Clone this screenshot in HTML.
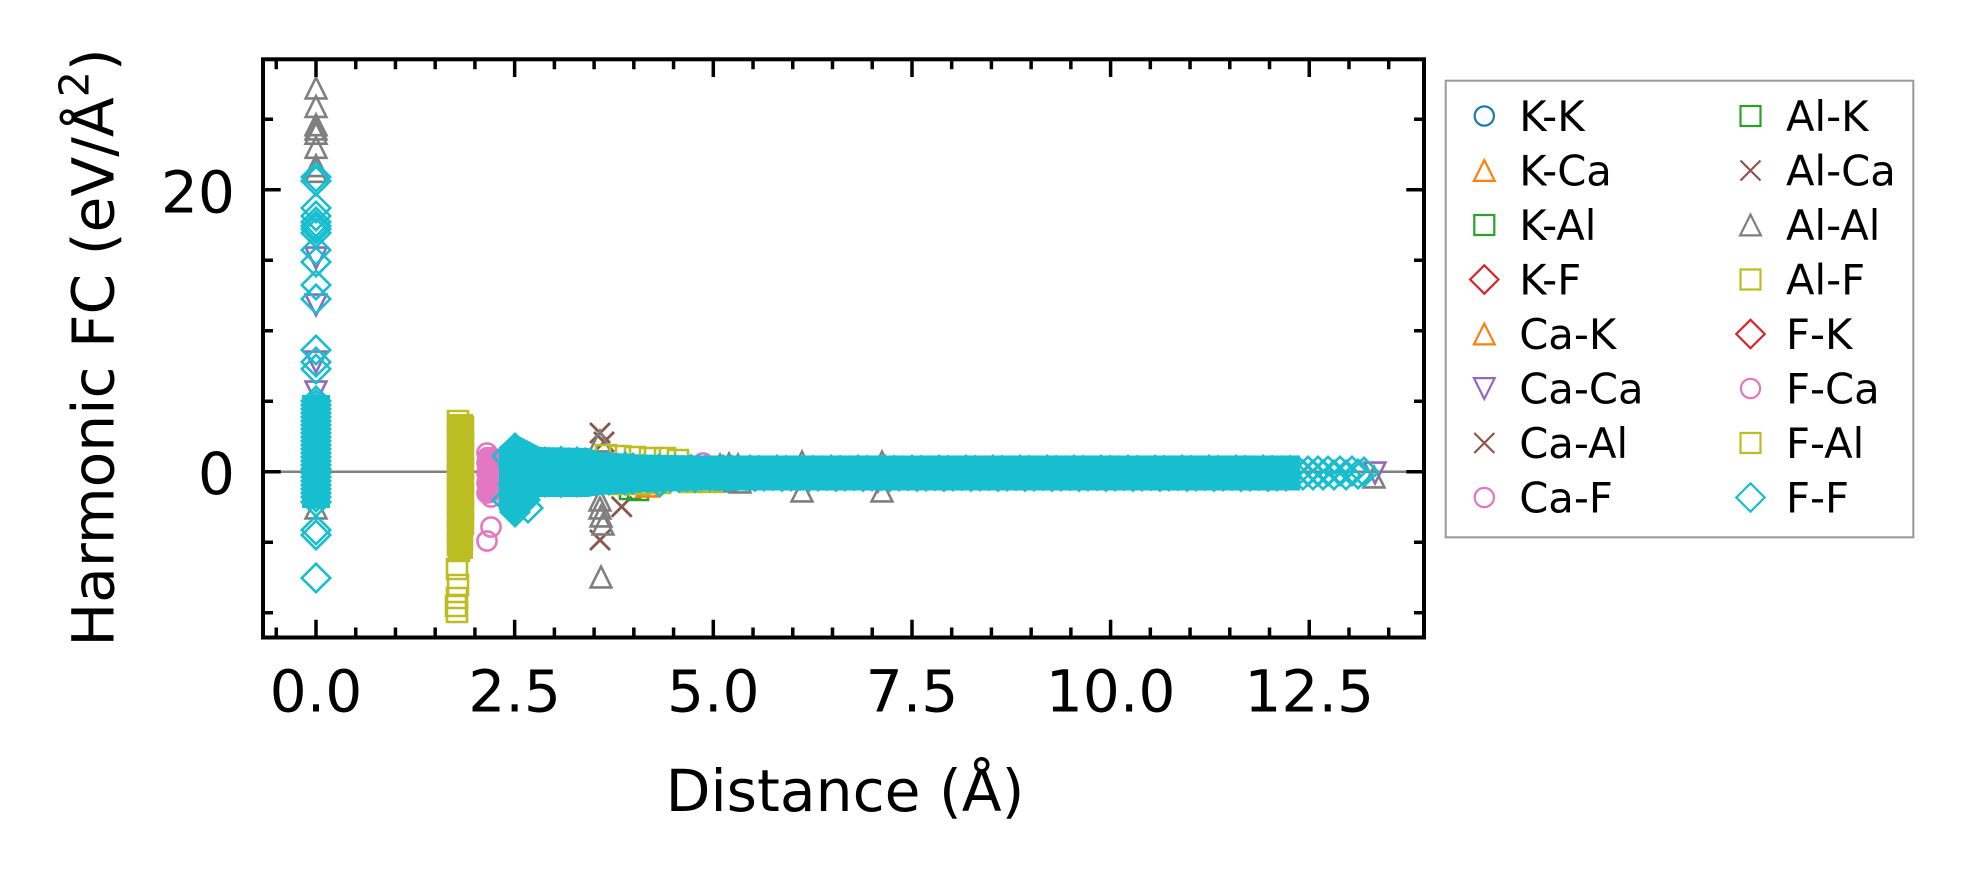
<!DOCTYPE html>
<html><head><meta charset="utf-8"><style>
html,body{margin:0;padding:0;background:#fff;}
svg{display:block;}
text{font-family:"DejaVu Sans","Liberation Sans",sans-serif;fill:#000;}
</style></head><body>
<svg width="1973" height="883" viewBox="0 0 1973 883" xmlns="http://www.w3.org/2000/svg">
<defs>
<path id="D" d="M0,-14.2L14.2,0L0,14.2L-14.2,0Z"/>
<path id="S" d="M-10,-10H10V10H-10Z"/>
<path id="T" d="M0,-10.4L10.4,10.4H-10.4Z"/>
<path id="V" d="M0,10.4L10.4,-10.4H-10.4Z"/>
<circle id="O" r="9.6"/>
<path id="X" d="M-10,-10L10,10M10,-10L-10,10"/>
</defs>
<rect width="1973" height="883" fill="#fff"/>

<!-- zero line -->
<line x1="263" y1="471.7" x2="1424" y2="471.7" stroke="#808080" stroke-width="2.5"/>

<!-- Ca-Ca purple -->
<g fill="none" stroke="#9467bd" stroke-width="2.6">
<use href="#V" x="316" y="258"/><use href="#V" x="316" y="305"/><use href="#V" x="316" y="362"/><use href="#V" x="316" y="392"/>
<use href="#V" x="1375" y="473"/><use href="#V" x="878" y="481"/>
</g>
<!-- brown x -->
<g fill="none" stroke="#8c564b" stroke-width="2.8">
<use href="#X" x="600" y="433"/><use href="#X" x="604" y="442"/><use href="#X" x="621.7" y="506.7"/><use href="#X" x="600" y="540"/>
</g>
<!-- green / orange -->
<g fill="none" stroke="#2ca02c" stroke-width="2.6">
<use href="#S" x="630" y="489"/><use href="#S" x="638" y="490"/>
</g>
<g fill="none" stroke="#ff7f0e" stroke-width="2.6">
<use href="#T" x="647" y="486"/>
</g>
<!-- Al-Al gray -->
<g fill="none" stroke="#7f7f7f" stroke-width="2.6">
<use href="#T" x="316" y="88"/><use href="#T" x="316" y="106.5"/><use href="#T" x="316" y="124.8"/><use href="#T" x="316" y="129"/><use href="#T" x="316" y="133.3"/><use href="#T" x="316" y="147.4"/><use href="#T" x="316" y="165.7"/><use href="#T" x="316" y="171.4"/><use href="#T" x="316" y="508"/>
<use href="#T" x="600" y="441"/><use href="#T" x="600" y="500"/><use href="#T" x="600" y="508"/><use href="#T" x="601" y="516"/><use href="#T" x="603" y="524"/><use href="#T" x="601" y="577"/>
<use href="#T" x="720" y="465"/><use href="#T" x="729" y="464"/><use href="#T" x="738" y="465"/><use href="#T" x="725" y="481"/><use href="#T" x="740" y="482"/>
<use href="#T" x="802" y="462"/><use href="#T" x="802" y="491"/><use href="#T" x="882" y="462"/><use href="#T" x="882" y="491"/>
<use href="#T" x="1374" y="477"/><use href="#T" x="1100" y="478"/>
</g>
<!-- Al-F olive -->
<g fill="none" stroke="#bcbd22" stroke-width="2.6">
<rect x="449" y="414" width="24" height="145" fill="#bcbd22" stroke="none"/>
<use href="#S" x="458" y="421"/><use href="#S" x="463" y="427"/><use href="#S" x="458" y="433"/><use href="#S" x="463" y="440"/><use href="#S" x="458" y="447"/><use href="#S" x="463" y="454"/><use href="#S" x="458" y="461"/><use href="#S" x="463" y="468"/><use href="#S" x="458" y="475"/><use href="#S" x="463" y="482"/><use href="#S" x="458" y="489"/><use href="#S" x="463" y="496"/><use href="#S" x="458" y="503"/><use href="#S" x="463" y="510"/><use href="#S" x="458" y="517"/><use href="#S" x="463" y="524"/><use href="#S" x="458" y="531"/><use href="#S" x="462" y="538"/><use href="#S" x="458" y="545"/><use href="#S" x="459" y="551"/>
<use href="#S" x="457" y="569"/><use href="#S" x="458" y="585"/><use href="#S" x="457" y="598"/><use href="#S" x="456" y="606"/><use href="#S" x="457" y="612"/>
<use href="#S" x="606" y="455"/><use href="#S" x="620" y="456"/><use href="#S" x="635" y="457"/><use href="#S" x="650" y="458"/><use href="#S" x="665" y="458"/><use href="#S" x="678" y="460"/>
<use href="#S" x="620" y="484"/><use href="#S" x="640" y="484"/><use href="#S" x="660" y="483"/><use href="#S" x="690" y="482"/><use href="#S" x="712" y="482"/>
</g>
<!-- pink -->
<g fill="none" stroke="#e377c2" stroke-width="2.6">
<rect x="478" y="447" width="22" height="56" rx="8" fill="#e377c2" stroke="none"/>
<use href="#O" x="487" y="453"/><use href="#O" x="492" y="458"/><use href="#O" x="487" y="463"/><use href="#O" x="492" y="468"/><use href="#O" x="487" y="473"/><use href="#O" x="492" y="478"/><use href="#O" x="487" y="483"/><use href="#O" x="492" y="488"/><use href="#O" x="487" y="493"/><use href="#O" x="491" y="497"/>
<use href="#O" x="491" y="527"/><use href="#O" x="487" y="541"/>
<use href="#O" x="703" y="463"/>
</g>
<!-- F-F cyan -->
<g fill="none" stroke="#17becf" stroke-width="2.6">
<rect x="302" y="395" width="28" height="113" fill="#17becf" stroke="none"/>
<use href="#D" x="316" y="177"/><use href="#D" x="316" y="181"/><use href="#D" x="316" y="208"/><use href="#D" x="316" y="216"/><use href="#D" x="316" y="222"/><use href="#D" x="316" y="226"/><use href="#D" x="316" y="229"/><use href="#D" x="316" y="233"/><use href="#D" x="316" y="250"/><use href="#D" x="316" y="262"/><use href="#D" x="316" y="285"/><use href="#D" x="316" y="299"/><use href="#D" x="316" y="350"/><use href="#D" x="316" y="362"/><use href="#D" x="316" y="369"/>
<use href="#D" x="316" y="401"/><use href="#D" x="316" y="405"/><use href="#D" x="316" y="409"/><use href="#D" x="316" y="413"/><use href="#D" x="316" y="417"/><use href="#D" x="316" y="421"/><use href="#D" x="316" y="425"/><use href="#D" x="316" y="429"/><use href="#D" x="316" y="433"/><use href="#D" x="316" y="437"/><use href="#D" x="316" y="441"/><use href="#D" x="316" y="445"/><use href="#D" x="316" y="449"/><use href="#D" x="316" y="453"/><use href="#D" x="316" y="457"/><use href="#D" x="316" y="461"/><use href="#D" x="316" y="465"/><use href="#D" x="316" y="469"/><use href="#D" x="316" y="473"/><use href="#D" x="316" y="477"/><use href="#D" x="316" y="481"/><use href="#D" x="316" y="485"/><use href="#D" x="316" y="489"/><use href="#D" x="316" y="493"/><use href="#D" x="316" y="497"/><use href="#D" x="316" y="502"/>
<use href="#D" x="316" y="530"/><use href="#D" x="316" y="535"/><use href="#D" x="316" y="578"/>

<polygon points="499,447 515,434 540,447 588,448 600,452 640,454.5 700,455.5 1300,455.5 1300,490.5 700,490.5 640,492.5 600,495 588,497 540,497 515,525 499,510" fill="#17becf" stroke="none"/>
<use href="#D" x="515" y="448"/><use href="#D" x="515" y="512"/><use href="#D" x="507" y="456"/><use href="#D" x="507" y="500"/><use href="#D" x="525" y="456"/><use href="#D" x="525" y="500"/><use href="#D" x="533" y="462"/><use href="#D" x="533" y="483"/><use href="#D" x="513" y="465"/><use href="#D" x="513" y="485"/><use href="#D" x="528" y="508"/>

<use href="#D" x="545" y="462"/><use href="#D" x="553" y="463"/><use href="#D" x="561" y="461.5"/><use href="#D" x="569" y="463"/><use href="#D" x="577" y="462"/><use href="#D" x="585" y="463"/>
<use href="#D" x="545" y="482"/><use href="#D" x="553" y="481"/><use href="#D" x="561" y="482.5"/><use href="#D" x="569" y="481"/><use href="#D" x="577" y="482"/><use href="#D" x="585" y="481.5"/>
<use href="#D" x="593" y="467"/><use href="#D" x="601" y="468"/><use href="#D" x="609" y="467"/><use href="#D" x="617" y="468.5"/><use href="#D" x="625" y="467"/><use href="#D" x="633" y="468"/>
<use href="#D" x="593" y="480"/><use href="#D" x="601" y="479"/><use href="#D" x="609" y="480"/><use href="#D" x="617" y="478.5"/><use href="#D" x="625" y="480"/><use href="#D" x="633" y="479"/>
<use href="#D" x="643" y="469.5"/><use href="#D" x="651" y="470"/><use href="#D" x="659" y="469"/><use href="#D" x="667" y="470"/><use href="#D" x="675" y="469.5"/><use href="#D" x="683" y="470.5"/><use href="#D" x="691" y="469.5"/><use href="#D" x="699" y="470"/>
<use href="#D" x="647" y="477.5"/><use href="#D" x="655" y="477"/><use href="#D" x="663" y="478"/><use href="#D" x="671" y="477"/><use href="#D" x="679" y="477.5"/><use href="#D" x="687" y="476.5"/><use href="#D" x="695" y="477.5"/>
<use href="#D" x="660" y="482"/>

<use href="#D" x="705" y="470.5"/><use href="#D" x="714" y="471"/><use href="#D" x="723" y="470"/><use href="#D" x="732" y="470.5"/><use href="#D" x="741" y="471"/><use href="#D" x="750" y="470"/><use href="#D" x="759" y="470.5"/><use href="#D" x="768" y="471"/><use href="#D" x="777" y="470"/><use href="#D" x="786" y="470.5"/><use href="#D" x="795" y="471"/><use href="#D" x="804" y="470"/><use href="#D" x="813" y="470.5"/><use href="#D" x="822" y="471"/><use href="#D" x="831" y="470"/><use href="#D" x="840" y="470.5"/><use href="#D" x="849" y="471"/><use href="#D" x="858" y="470"/><use href="#D" x="867" y="470.5"/><use href="#D" x="876" y="471"/><use href="#D" x="885" y="470"/><use href="#D" x="894" y="470.5"/><use href="#D" x="903" y="471"/><use href="#D" x="912" y="470"/><use href="#D" x="921" y="470.5"/><use href="#D" x="930" y="471"/><use href="#D" x="939" y="470"/><use href="#D" x="948" y="470.5"/><use href="#D" x="957" y="471"/><use href="#D" x="966" y="470"/><use href="#D" x="975" y="470.5"/><use href="#D" x="984" y="471"/><use href="#D" x="993" y="470"/><use href="#D" x="1002" y="470.5"/><use href="#D" x="1011" y="471"/><use href="#D" x="1020" y="470"/><use href="#D" x="1029" y="470.5"/><use href="#D" x="1038" y="471"/><use href="#D" x="1047" y="470"/><use href="#D" x="1056" y="470.5"/><use href="#D" x="1065" y="471"/><use href="#D" x="1074" y="470"/><use href="#D" x="1083" y="470.5"/><use href="#D" x="1092" y="471"/><use href="#D" x="1101" y="470"/><use href="#D" x="1110" y="470.5"/><use href="#D" x="1119" y="471"/><use href="#D" x="1128" y="470"/><use href="#D" x="1137" y="470.5"/><use href="#D" x="1146" y="471"/><use href="#D" x="1155" y="470"/><use href="#D" x="1164" y="470.5"/><use href="#D" x="1173" y="471"/><use href="#D" x="1182" y="470"/><use href="#D" x="1191" y="470.5"/><use href="#D" x="1200" y="471"/><use href="#D" x="1209" y="470"/><use href="#D" x="1218" y="470.5"/><use href="#D" x="1227" y="471"/><use href="#D" x="1236" y="470"/><use href="#D" x="1245" y="470.5"/><use href="#D" x="1254" y="471"/><use href="#D" x="1263" y="470"/><use href="#D" x="1272" y="470.5"/><use href="#D" x="1281" y="471"/><use href="#D" x="1290" y="470.5"/>
<use href="#D" x="710" y="476"/><use href="#D" x="719" y="475.5"/><use href="#D" x="728" y="476.5"/><use href="#D" x="737" y="476"/><use href="#D" x="746" y="475.5"/><use href="#D" x="755" y="476.5"/><use href="#D" x="764" y="476"/><use href="#D" x="773" y="475.5"/><use href="#D" x="782" y="476.5"/><use href="#D" x="791" y="476"/><use href="#D" x="800" y="475.5"/><use href="#D" x="809" y="476.5"/><use href="#D" x="818" y="476"/><use href="#D" x="827" y="475.5"/><use href="#D" x="836" y="476.5"/><use href="#D" x="845" y="476"/><use href="#D" x="854" y="475.5"/><use href="#D" x="863" y="476.5"/><use href="#D" x="872" y="476"/><use href="#D" x="881" y="475.5"/><use href="#D" x="890" y="476.5"/><use href="#D" x="899" y="476"/><use href="#D" x="908" y="475.5"/><use href="#D" x="917" y="476.5"/><use href="#D" x="926" y="476"/><use href="#D" x="935" y="475.5"/><use href="#D" x="944" y="476.5"/><use href="#D" x="953" y="476"/><use href="#D" x="962" y="475.5"/><use href="#D" x="971" y="476.5"/><use href="#D" x="980" y="476"/><use href="#D" x="989" y="475.5"/><use href="#D" x="998" y="476.5"/><use href="#D" x="1007" y="476"/><use href="#D" x="1016" y="475.5"/><use href="#D" x="1025" y="476.5"/><use href="#D" x="1034" y="476"/><use href="#D" x="1043" y="475.5"/><use href="#D" x="1052" y="476.5"/><use href="#D" x="1061" y="476"/><use href="#D" x="1070" y="475.5"/><use href="#D" x="1079" y="476.5"/><use href="#D" x="1088" y="476"/><use href="#D" x="1097" y="475.5"/><use href="#D" x="1106" y="476.5"/><use href="#D" x="1115" y="476"/><use href="#D" x="1124" y="475.5"/><use href="#D" x="1133" y="476.5"/><use href="#D" x="1142" y="476"/><use href="#D" x="1151" y="475.5"/><use href="#D" x="1160" y="476.5"/><use href="#D" x="1169" y="476"/><use href="#D" x="1178" y="475.5"/><use href="#D" x="1187" y="476.5"/><use href="#D" x="1196" y="476"/><use href="#D" x="1205" y="475.5"/><use href="#D" x="1214" y="476.5"/><use href="#D" x="1223" y="476"/><use href="#D" x="1232" y="475.5"/><use href="#D" x="1241" y="476.5"/><use href="#D" x="1250" y="476"/><use href="#D" x="1259" y="475.5"/><use href="#D" x="1268" y="476.5"/><use href="#D" x="1277" y="476"/><use href="#D" x="1286" y="476"/>
<use href="#D" x="1298" y="471"/><use href="#D" x="1303" y="475"/><use href="#D" x="1308" y="471"/><use href="#D" x="1313" y="475"/><use href="#D" x="1318" y="471"/><use href="#D" x="1323" y="475"/><use href="#D" x="1328" y="471"/><use href="#D" x="1334" y="475"/><use href="#D" x="1340" y="471"/><use href="#D" x="1346" y="475"/><use href="#D" x="1352" y="471"/><use href="#D" x="1358" y="474"/><use href="#D" x="1364" y="472"/>
</g>

<!-- axes frame -->
<rect x="263" y="59.3" width="1161" height="578.2" fill="none" stroke="#000" stroke-width="4"/>
<g stroke="#000" stroke-width="3.5" fill="none">
<path d="M316,637.5v-17.7M514.65,637.5v-17.7M713.3,637.5v-17.7M912,637.5v-17.7M1110.6,637.5v-17.7M1309.25,637.5v-17.7
M316,59.3v17.7M514.65,59.3v17.7M713.3,59.3v17.7M912,59.3v17.7M1110.6,59.3v17.7M1309.25,59.3v17.7"/>
<path d="M276.27,637.5v-10M355.73,637.5v-10M395.46,637.5v-10M435.19,637.5v-10M474.92,637.5v-10M554.38,637.5v-10M594.11,637.5v-10M633.84,637.5v-10M673.57,637.5v-10M753.03,637.5v-10M792.76,637.5v-10M832.49,637.5v-10M872.22,637.5v-10M951.68,637.5v-10M991.41,637.5v-10M1031.14,637.5v-10M1070.87,637.5v-10M1150.33,637.5v-10M1190.06,637.5v-10M1229.79,637.5v-10M1269.52,637.5v-10M1348.98,637.5v-10M1388.71,637.5v-10
M276.27,59.3v10M355.73,59.3v10M395.46,59.3v10M435.19,59.3v10M474.92,59.3v10M554.38,59.3v10M594.11,59.3v10M633.84,59.3v10M673.57,59.3v10M753.03,59.3v10M792.76,59.3v10M832.49,59.3v10M872.22,59.3v10M951.68,59.3v10M991.41,59.3v10M1031.14,59.3v10M1070.87,59.3v10M1150.33,59.3v10M1190.06,59.3v10M1229.79,59.3v10M1269.52,59.3v10M1348.98,59.3v10M1388.71,59.3v10"/>
<path d="M263,189.7h17.7M263,471.7h17.7M1424,189.7h-17.7M1424,471.7h-17.7"/>
<path d="M263,119.2h10M263,260.2h10M263,330.7h10M263,401.2h10M263,542.2h10M263,612.7h10
M1424,119.2h-10M1424,260.2h-10M1424,330.7h-10M1424,401.2h-10M1424,542.2h-10M1424,612.7h-10"/>
</g>

<!-- tick labels -->
<g font-size="58.3" text-anchor="middle">
<text x="316" y="711.5">0.0</text>
<text x="514.65" y="711.5">2.5</text>
<text x="713.3" y="711.5">5.0</text>
<text x="912" y="711.5">7.5</text>
<text x="1110.6" y="711.5">10.0</text>
<text x="1309.25" y="711.5">12.5</text>
</g>
<g font-size="58.3" text-anchor="end">
<text x="235" y="212.5">20</text>
<text x="235" y="494">0</text>
</g>

<!-- axis labels -->
<text x="845" y="811" font-size="58.3" text-anchor="middle">Distance (Å)</text>
<text transform="translate(113.3,347.5) rotate(-90)" font-size="58.3" text-anchor="middle">Harmonic FC (eV/Å<tspan font-size="41" dy="-25">2</tspan><tspan dy="25">)</tspan></text>

<!-- legend -->
<rect x="1445.7" y="80.7" width="467.6" height="456.6" fill="#fff" stroke="#999" stroke-width="2"/>
<g fill="none" stroke-width="2.2">
<use href="#O" x="1484.3" y="116" stroke="#1f77b4"/>
<use href="#T" x="1484.3" y="170.5" stroke="#ff7f0e"/>
<use href="#S" x="1484.3" y="225" stroke="#2ca02c"/>
<use href="#D" x="1484.3" y="279.5" stroke="#d62728"/>
<use href="#T" x="1484.3" y="334" stroke="#ff7f0e"/>
<use href="#V" x="1484.3" y="388.5" stroke="#9467bd"/>
<use href="#X" x="1484.3" y="443" stroke="#8c564b"/>
<use href="#O" x="1484.3" y="497.5" stroke="#e377c2"/>
<use href="#S" x="1750.5" y="116" stroke="#2ca02c"/>
<use href="#X" x="1750.5" y="170.5" stroke="#8c564b"/>
<use href="#T" x="1750.5" y="225" stroke="#7f7f7f"/>
<use href="#S" x="1750.5" y="279.5" stroke="#bcbd22"/>
<use href="#D" x="1750.5" y="334" stroke="#d62728"/>
<use href="#O" x="1750.5" y="388.5" stroke="#e377c2"/>
<use href="#S" x="1750.5" y="443" stroke="#bcbd22"/>
<use href="#D" x="1750.5" y="497.5" stroke="#17becf"/>
</g>
<g font-size="41.7">
<text x="1519.2" y="131">K-K</text>
<text x="1519.2" y="185.5">K-Ca</text>
<text x="1519.2" y="240">K-Al</text>
<text x="1519.2" y="294.5">K-F</text>
<text x="1519.2" y="349">Ca-K</text>
<text x="1519.2" y="403.5">Ca-Ca</text>
<text x="1519.2" y="458">Ca-Al</text>
<text x="1519.2" y="512.5">Ca-F</text>
<text x="1786" y="131">Al-K</text>
<text x="1786" y="185.5">Al-Ca</text>
<text x="1786" y="240">Al-Al</text>
<text x="1786" y="294.5">Al-F</text>
<text x="1786" y="349">F-K</text>
<text x="1786" y="403.5">F-Ca</text>
<text x="1786" y="458">F-Al</text>
<text x="1786" y="512.5">F-F</text>
</g>
</svg>
</body></html>
